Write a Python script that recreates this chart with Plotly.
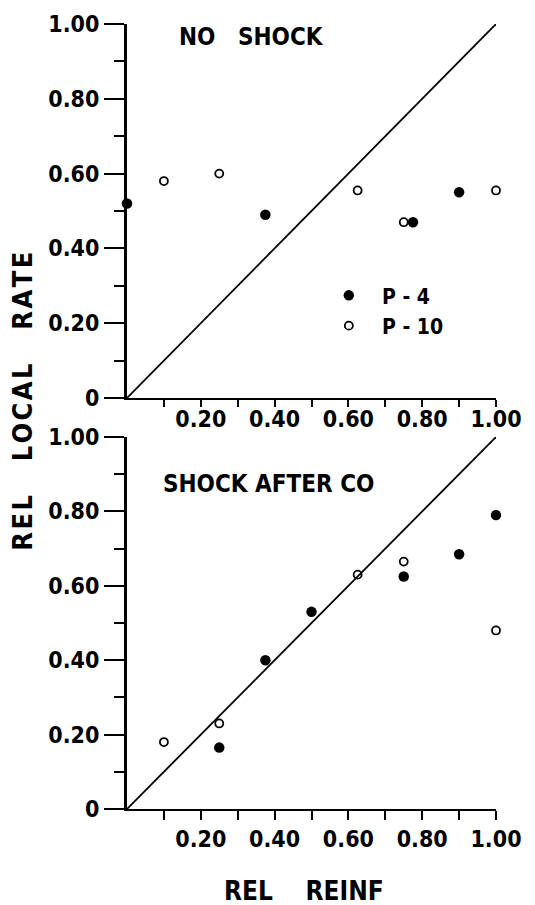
import plotly.graph_objects as go

# ---- data ----
top_p4_x = [0.0, 0.375, 0.775, 0.90]
top_p4_y = [0.52, 0.49, 0.47, 0.55]
top_p10_x = [0.10, 0.25, 0.625, 0.75, 1.00]
top_p10_y = [0.58, 0.60, 0.555, 0.47, 0.555]

bot_p4_x = [0.25, 0.375, 0.50, 0.75, 0.90, 1.00]
bot_p4_y = [0.165, 0.40, 0.53, 0.625, 0.685, 0.79]
bot_p10_x = [0.10, 0.25, 0.625, 0.75, 1.00]
bot_p10_y = [0.18, 0.23, 0.63, 0.665, 0.48]

diag = [0.0, 1.0]

x_tickvals = [0.2, 0.4, 0.6, 0.8, 1.0]
x_ticktext = ["0.20", "0.40", "0.60", "0.80", "1.00"]
x_minor = [0.1, 0.3, 0.5, 0.7, 0.9]
y_tickvals = [0, 0.2, 0.4, 0.6, 0.8, 1.0]
y_ticktext = ["0", "0.20", "0.40", "0.60", "0.80", "1.00"]
y_minor = [0.1, 0.3, 0.5, 0.7, 0.9]

FONT = "DejaVu Sans Condensed, DejaVu Sans, sans-serif"
NB = "\u00a0"
HS = "\u200a"


def spaced(word):
    return HS.join(word)


fig = go.Figure()

def add_panel(xa, ya, p4x, p4y, p10x, p10y, legend):
    fig.add_trace(go.Scatter(x=diag, y=diag, mode="lines", xaxis=xa, yaxis=ya,
                             line=dict(color="black", width=1.8), showlegend=False,
                             cliponaxis=False))
    fig.add_trace(go.Scatter(x=p4x, y=p4y, mode="markers", xaxis=xa, yaxis=ya,
                             name=NB * 2 + "P - 4", showlegend=legend, cliponaxis=False,
                             marker=dict(symbol="circle", size=10.5, color="black")))
    fig.add_trace(go.Scatter(x=p10x, y=p10y, mode="markers", xaxis=xa, yaxis=ya,
                             name=NB * 2 + "P - 10", showlegend=legend, cliponaxis=False,
                             marker=dict(symbol="circle-open", size=8, color="black",
                                         line=dict(width=1.8, color="black"))))

add_panel("x", "y", top_p4_x, top_p4_y, top_p10_x, top_p10_y, True)
add_panel("x2", "y2", bot_p4_x, bot_p4_y, bot_p10_x, bot_p10_y, False)

TICKFONT = dict(family=FONT, size=23, color="black", weight="bold")

def xaxis_common(ticklen, standoff):
    return dict(range=[0, 1.0], showgrid=False, zeroline=False, showline=True,
                linecolor="black", linewidth=2, ticks="outside", ticklen=ticklen,
                tickwidth=2, tickcolor="black", tickvals=x_tickvals, ticktext=x_ticktext,
                tickfont=TICKFONT, ticklabelstandoff=standoff,
                minor=dict(tickvals=x_minor, ticks="outside",
                           ticklen=ticklen, tickwidth=2, tickcolor="black"),
                fixedrange=True)

yaxis_common = dict(range=[0, 1.0], showgrid=False, zeroline=False, showline=True,
                    linecolor="black", linewidth=3, ticks="outside", ticklen=20,
                    tickwidth=2, tickcolor="black", tickvals=y_tickvals, ticktext=y_ticktext,
                    tickfont=TICKFONT,
                    minor=dict(tickvals=y_minor, ticks="outside",
                               ticklen=10, tickwidth=2, tickcolor="black"),
                    fixedrange=True)

fig.update_layout(
    width=535, height=905,
    margin=dict(l=127, r=39, t=24, b=96),
    paper_bgcolor="white", plot_bgcolor="white",
    xaxis=dict(domain=[0, 1], anchor="y", **xaxis_common(7, -8)),
    yaxis=dict(domain=[0.5236, 1.0], anchor="x", **yaxis_common),
    xaxis2=dict(domain=[0, 1], anchor="y2", **xaxis_common(9, -1)),
    yaxis2=dict(domain=[0.0, 0.4739], anchor="x2", **yaxis_common),
    legend=dict(x=0.547, y=0.680, xanchor="left", yanchor="top",
                bgcolor="rgba(0,0,0,0)", borderwidth=0, tracegroupgap=0,
                font=dict(family=FONT, size=21, color="black", weight="bold")),
    showlegend=True,
)

annotations = [
    dict(text="NO" + NB * 3 + "SHOCK", x=0.136, y=0.983, xref="paper", yref="paper",
         xanchor="left", yanchor="middle", showarrow=False,
         font=dict(family=FONT, size=24, color="black", weight="bold")),
    dict(text="SHOCK" + NB + "AFTER" + NB + "CO", x=0.092, y=0.414, xref="paper", yref="paper",
         xanchor="left", yanchor="middle", showarrow=False,
         font=dict(family=FONT, size=24, color="black", weight="bold")),
    dict(text=spaced("REL") + NB * 4 + spaced("LOCAL") + NB * 4 + spaced("RATE"),
         x=-0.282, y=0.520, xref="paper", yref="paper",
         xanchor="center", yanchor="middle", showarrow=False, textangle=-90,
         font=dict(family=FONT, size=27, color="black", weight="bold")),
    dict(text="REL" + NB * 4 + "REINF", x=0.4797, y=-0.1045, xref="paper", yref="paper",
         xanchor="center", yanchor="middle", showarrow=False,
         font=dict(family=FONT, size=26, color="black", weight="bold")),
]
fig.update_layout(annotations=annotations)

# remove the default 8px page margin so the figure fills the window exactly
fig.write_html("out.html", config={"displayModeBar": False},
               post_script="document.body.style.margin='0px';")
